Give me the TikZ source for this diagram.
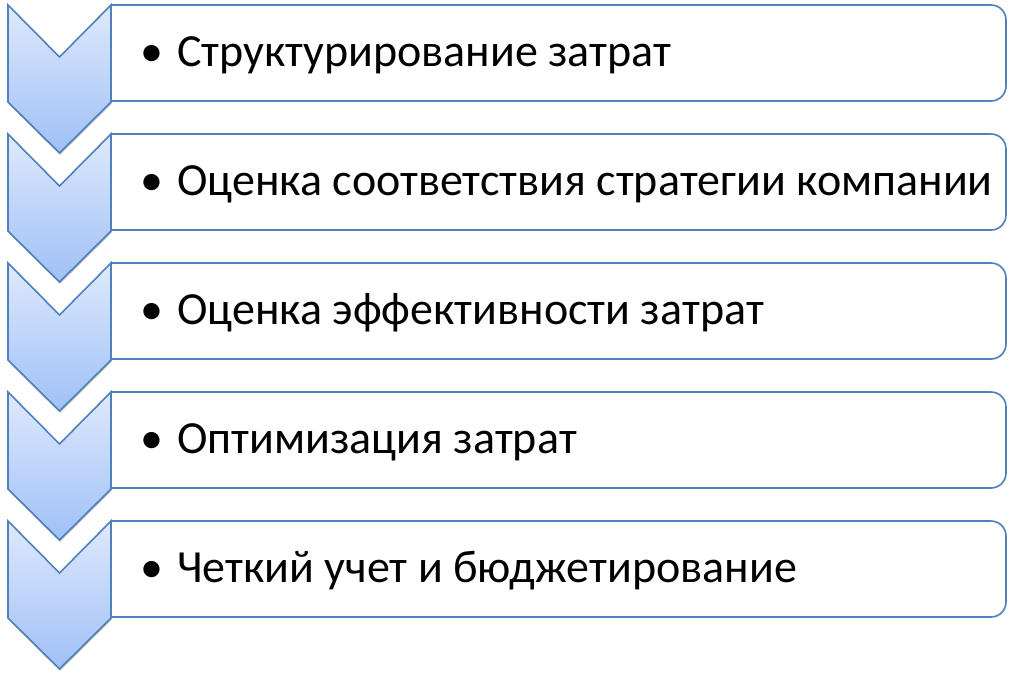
\documentclass[tikz,border=0pt]{standalone}
\usepackage{fontspec}
\setmainfont{Carlito}
\usetikzlibrary{shadows}
\definecolor{bord}{RGB}{79,129,189}
\definecolor{chevtop}{RGB}{222,233,252}
\definecolor{chevbot}{RGB}{160,192,246}
\tikzset{
  chev/.style={draw=bord, line width=1.6pt, line join=miter, top color=chevtop, bottom color=chevbot,
    drop shadow={shadow xshift=0.6pt, shadow yshift=-1.8pt, opacity=0.25, fill=black}},
  itembox/.style={draw=bord, line width=1.6pt, fill=white},
  itemtext/.style={anchor=west, inner sep=0pt, font=\fontsize{46}{52}\selectfont, text=black}
}
\begin{document}
\begin{tikzpicture}[x=1pt,y=-1pt]
\useasboundingbox (0,0) rectangle (1013,681);
\foreach \i/\t in {0/Структурирование затрат,
                   1/Оценка соответствия стратегии компании,
                   2/Оценка эффективности затрат,
                   3/Оптимизация затрат,
                   4/Четкий учет и бюджетирование}{
  \pgfmathsetmacro{\yo}{5+129*\i}
  \draw[itembox] (111,\yo) -- (991,\yo) .. controls (999.3,\yo) and (1006,\yo+6.7) .. (1006,\yo+15)
     -- (1006,\yo+81) .. controls (1006,\yo+89.3) and (999.3,\yo+96) .. (991,\yo+96)
     -- (111,\yo+96) -- cycle;
  \path[chev] (8,\yo) -- (59.5,\yo+52) -- (111,\yo) -- (111,\yo+97) -- (59.5,\yo+148) -- (8,\yo+97) -- cycle;
  \node[itemtext] (t\i) at (140,\yo+50) {\makebox[37pt][l]{•}\t};
}
\end{tikzpicture}
\end{document}
